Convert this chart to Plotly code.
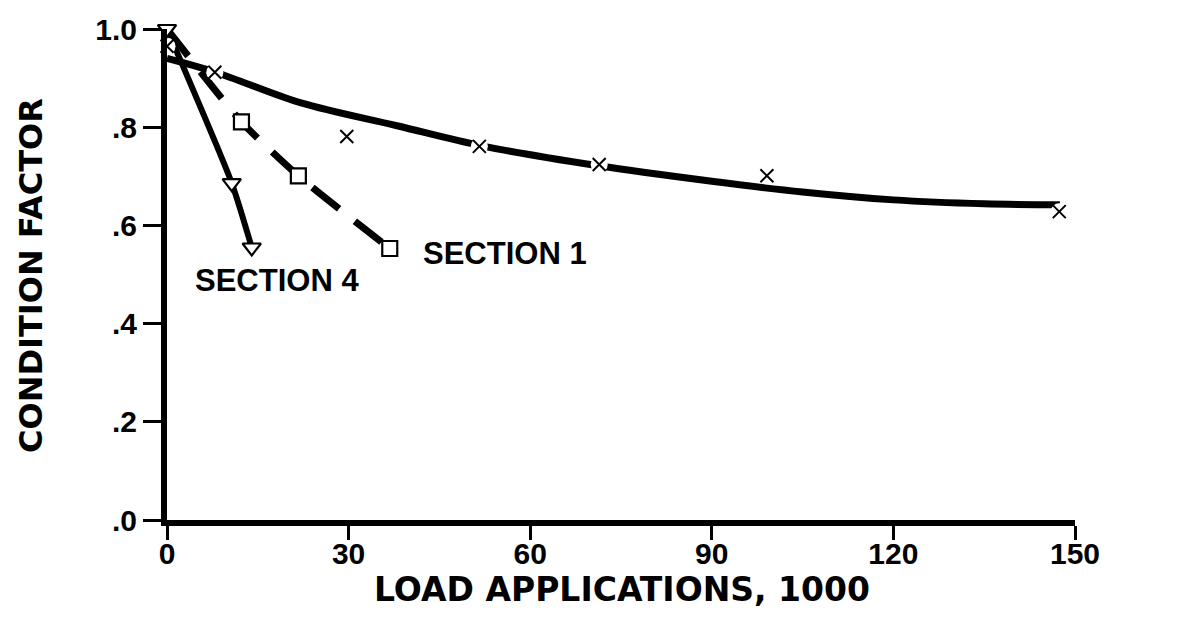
import plotly.graph_objects as go

# ---- data ----
# Section 2: observed points (x markers) and fitted curve
s2_x = [0, 7.9, 29.7, 51.6, 71.4, 99.1, 147.4]
s2_y = [0.965, 0.912, 0.781, 0.761, 0.724, 0.701, 0.628]
s2_fit_x = [0, 8, 22, 38, 52, 71, 90, 105, 120, 135, 147.5]
s2_fit_y = [0.94, 0.912, 0.85, 0.803, 0.762, 0.722, 0.69, 0.668, 0.652, 0.644, 0.642]

# Section 1: dashed line with open squares
s1_line_x = [0, 12.3, 21.7, 36.8]
s1_line_y = [1.0, 0.811, 0.701, 0.553]
s1_x = [12.3, 21.7, 36.8]
s1_y = [0.811, 0.701, 0.553]

# Section 4: solid line with open down-triangles
s4_x = [0, 10.7, 14.0]
s4_y = [1.0, 0.686, 0.555]

# labels
label_text = ["SECTION 4", "SECTION 1", "SECTION 2"]
label_x = [18.2, 55.8, 153.6]
label_y = [0.487, 0.543, 0.559]

x_ticks = [0, 30, 60, 90, 120, 150]
y_ticks = [0, 0.2, 0.4, 0.6, 0.8, 1.0]
y_ticktext = [".0", ".2", ".4", ".6", ".8", "1.0"]

x_title = "LOAD APPLICATIONS, 1000"
y_title = "CONDITION FACTOR"

fig = go.Figure()

# Section 2 fitted curve
fig.add_trace(go.Scatter(x=s2_fit_x, y=s2_fit_y, mode="lines",
                         line=dict(color="black", width=7, shape="spline", smoothing=1.0),
                         cliponaxis=False, showlegend=False, hoverinfo="skip"))
# Section 1 dashed
fig.add_trace(go.Scatter(x=s1_line_x, y=s1_line_y, mode="lines",
                         line=dict(color="black", width=7, dash="34px,20px", shape="spline", smoothing=0.6),
                         cliponaxis=False, showlegend=False, hoverinfo="skip"))
# Section 4 solid
fig.add_trace(go.Scatter(x=s4_x, y=s4_y, mode="lines",
                         line=dict(color="black", width=6, shape="spline", smoothing=0.6),
                         cliponaxis=False, showlegend=False, hoverinfo="skip"))

# white knock-outs under x markers (gaps in line)
fig.add_trace(go.Scatter(x=s2_x, y=s2_y, mode="markers",
                         marker=dict(symbol="circle", size=17, color="white", line=dict(width=0)),
                         cliponaxis=False, showlegend=False, hoverinfo="skip"))
fig.add_trace(go.Scatter(x=s2_x, y=s2_y, mode="markers",
                         marker=dict(symbol="x-thin", size=13, color="black",
                                     line=dict(width=2, color="black")),
                         cliponaxis=False, showlegend=False))
# squares
fig.add_trace(go.Scatter(x=s1_x, y=s1_y, mode="markers",
                         marker=dict(symbol="square", size=15, color="white",
                                     line=dict(width=2.2, color="black")),
                         cliponaxis=False, showlegend=False))
# triangles
fig.add_trace(go.Scatter(x=s4_x, y=s4_y, mode="markers",
                         marker=dict(symbol="triangle-down", size=16, color="white",
                                     line=dict(width=2.2, color="black")),
                         cliponaxis=False, showlegend=False))

for t, lx, ly in zip(label_text, label_x, label_y):
    fig.add_annotation(x=lx, y=ly, xref="x", yref="y", text=t, showarrow=False,
                       xanchor="center", yanchor="middle",
                       font=dict(family="Liberation Sans", size=31, color="black", weight="bold"))

fig.add_annotation(x=0.5006, y=-0.1408, xref="paper", yref="paper", text=x_title,
                   showarrow=False, xanchor="center", yanchor="middle",
                   font=dict(family="DejaVu Sans", size=33, color="black", weight="bold"))
fig.add_annotation(x=-0.1498, y=0.499, xref="paper", yref="paper", text=y_title,
                   showarrow=False, xanchor="center", yanchor="middle", textangle=-90,
                   font=dict(family="DejaVu Sans", size=32, color="black", weight="bold"))

fig.update_xaxes(range=[0, 150], tickvals=x_ticks, ticktext=[str(v) for v in x_ticks],
                 showgrid=False, zeroline=False, showline=True, linecolor="black", linewidth=6,
                 ticks="outside", ticklen=14, tickwidth=3, tickcolor="black",
                 ticklabelstandoff=-12,
                 tickfont=dict(family="Liberation Sans", size=30, color="black", weight="bold"))
fig.update_yaxes(range=[0, 1.0], tickvals=y_ticks, ticktext=y_ticktext,
                 showgrid=False, zeroline=False, showline=True, linecolor="black", linewidth=6,
                 ticks="outside", ticklen=18, tickwidth=3, tickcolor="black",
                 tickfont=dict(family="Liberation Sans", size=30, color="black", weight="bold"))

fig.update_layout(width=1190, height=620,
                  margin=dict(l=167, r=115, t=23, b=100),
                  plot_bgcolor="white", paper_bgcolor="white",
                  showlegend=False)

fig.write_html("out.html")
